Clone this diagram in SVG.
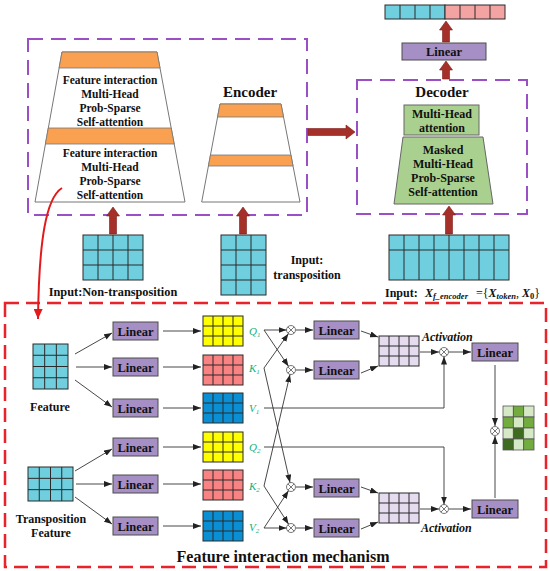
<svg xmlns="http://www.w3.org/2000/svg" xmlns:xlink="http://www.w3.org/1999/xlink" width="550" height="571" viewBox="0 0 550 571">
<style>
.b{font-family:"Liberation Serif",serif;font-weight:bold;fill:#111}
.tc{text-anchor:middle}
.lin{fill:#a68fc4;stroke:#4d4d4d;stroke-width:1}
.lt{font-family:"Liberation Serif",serif;font-weight:bold;font-size:12.5px;text-anchor:middle;fill:#111}
.gl{fill:none;stroke:#2a2a2a;stroke-width:1}
.cy{fill:#6fcfdf;stroke:#2a2a2a;stroke-width:1}
.pk{fill:#f4a3a3;stroke:#2a2a2a;stroke-width:1}
.ye{fill:#ffff00;stroke:#2a2a2a;stroke-width:1}
.sa{fill:#f98282;stroke:#2a2a2a;stroke-width:1}
.bl{fill:#0b8fd4;stroke:#2a2a2a;stroke-width:1}
.lp{fill:#e5dcef;stroke:#2a2a2a;stroke-width:1}
.ar{fill:none;stroke:#333;stroke-width:0.9;marker-end:url(#ah)}
.ln{fill:none;stroke:#333;stroke-width:0.9}
.big{fill:#a5302a;stroke:#7a1f1a;stroke-width:0.6}
.trap{fill:#fff;stroke:#777;stroke-width:1}
.or{fill:#f9a150;stroke:#777;stroke-width:0.8}
.gr{fill:#a9d08e;stroke:#666;stroke-width:1}
.pd{fill:none;stroke:#9a4fc4;stroke-width:2;stroke-dasharray:15 8}
.rd{fill:none;stroke:#e8232a;stroke-width:2.5;stroke-dasharray:14 7}
.lab{font-family:"Liberation Serif",serif;font-style:italic;font-size:11px;fill:#12b07a}
.act{font-family:"Liberation Serif",serif;font-style:italic;font-weight:bold;font-size:12px;fill:#111}
.L{fill:#d6e9c6;stroke:#555;stroke-width:0.8}
.M{fill:#72ab3e;stroke:#555;stroke-width:0.8}
.D{fill:#3e6b1f;stroke:#555;stroke-width:0.8}
</style>
<defs>
<marker id="ah" viewBox="0 0 8 6" refX="8" refY="3" markerWidth="8" markerHeight="6" markerUnits="userSpaceOnUse" orient="auto"><path d="M0,0 L8,3 L0,6 z" fill="#222"/></marker>
<marker id="rh" viewBox="0 0 10 9" refX="10" refY="4.5" markerWidth="10" markerHeight="9" markerUnits="userSpaceOnUse" orient="auto"><path d="M0,0 L10,4.5 L0,9 z" fill="#e31a1c"/></marker>
<path id="g43" d="M10,0V30M20,0V30M30,0V30M0,10H40M0,20H40"/>
<g id="otimes"><circle r="4.5" fill="#fff" stroke="#555" stroke-width="0.8"/><path d="M-3.2,-3.2L3.2,3.2M-3.2,3.2L3.2,-3.2" stroke="#555" stroke-width="0.8"/></g>
</defs>

<!-- Top section -->
<g id="encoder-frame">
<rect x="28" y="39" width="279" height="176" class="pd"/>
</g>
<g id="encoder-stack-left">
<polygon points="62,52 157,52 185,202 35,202" class="trap"/>
<polygon points="62,52 157,52 160,68 59.1,68" class="or"/>
<polygon points="48.3,128 171.2,128 174.2,144 45.4,144" class="or"/>
<g class="b tc" font-size="11.5">
<text x="110" y="84">Feature interaction</text>
<text x="110" y="98">Multi-Head</text>
<text x="110" y="112">Prob-Sparse</text>
<text x="110" y="126">Self-attention</text>
<text x="110" y="157">Feature interaction</text>
<text x="110" y="171">Multi-Head</text>
<text x="110" y="185">Prob-Sparse</text>
<text x="110" y="199">Self-attention</text>
</g>
</g>
<g id="encoder-stack-right">
<text x="250" y="97" class="b tc" font-size="15">Encoder</text>
<polygon points="220,104 281,104 300,202 201.7,202" class="trap"/>
<polygon points="220,104 281,104 283.5,117 217.6,117" class="or"/>
<polygon points="210.5,155 290.9,155 293,166 208.4,166" class="or"/>
</g>
<g id="decoder">
<rect x="357" y="80" width="170" height="134" class="pd"/>
<text x="442" y="97" class="b tc" font-size="15">Decoder</text>
<rect x="404" y="105" width="75" height="30" class="gr"/>
<text x="442" y="117.5" class="b tc" font-size="12">Multi-Head</text>
<text x="442" y="132" class="b tc" font-size="12">attention</text>
<polygon points="403,137 483,137 493,204 394,204" class="gr"/>
<g class="b tc" font-size="12">
<text x="443" y="154">Masked</text>
<text x="443" y="168">Multi-Head</text>
<text x="443" y="182">Prob-Sparse</text>
<text x="443" y="195.5">Self-attention</text>
</g>
</g>
<g id="linear-top">
<rect x="402" y="43" width="84" height="17" class="lin"/>
<text x="444" y="56" class="lt">Linear</text>
</g>
<g id="output-bar">
<rect x="385" y="5" width="60" height="14" class="cy"/>
<rect x="445" y="5" width="60" height="14" class="pk"/>
<path d="M400,5V19M415,5V19M430,5V19M460,5V19M475,5V19M490,5V19" class="gl"/>
</g>
<g id="input-nontrans">
<rect x="83" y="235" width="60" height="45" class="cy"/>
<path d="M98,235V280M113,235V280M128,235V280M83,250H143M83,265H143" class="gl"/>
<text x="113" y="296" class="b tc" font-size="12.3">Input:Non-transposition</text>
</g>
<g id="input-trans">
<rect x="221" y="235" width="45" height="60" class="cy"/>
<path d="M236,235V295M251,235V295M221,250H266M221,265H266M221,280H266" class="gl"/>
<text x="307" y="264" class="b tc" font-size="12">Input:</text>
<text x="307" y="279" class="b tc" font-size="12">transposition</text>
</g>
<g id="input-decoder">
<rect x="389" y="235" width="120" height="45" class="cy"/>
<path d="M404,235V280M419,235V280M434,235V280M449,235V280M464,235V280M479,235V280M494,235V280M389,250H509" class="gl"/>
<text y="297" class="b" font-size="12"><tspan x="385">Input:</tspan><tspan x="425" font-style="italic">X</tspan><tspan font-style="italic" font-size="8.5" dy="2">f_encoder</tspan><tspan x="476" dy="-2" font-weight="normal">={</tspan><tspan font-style="italic">X</tspan><tspan font-style="italic" font-size="8.5" dy="2">token</tspan><tspan dy="-2" font-weight="normal">, </tspan><tspan font-style="italic">X</tspan><tspan font-size="8.5" dy="2">0</tspan><tspan dy="-2" font-weight="normal">}</tspan></text>
</g>

<!-- Bottom section -->
<g id="fim-frame">
<rect x="5" y="303" width="541" height="264" class="rd"/>
<text x="283" y="562" class="b tc" font-size="16">Feature interaction mechanism</text>
</g>
<g id="feature">
<rect x="33" y="344" width="35" height="45" class="cy"/>
<path d="M44.67,344V389M56.33,344V389M33,355.25H68M33,366.5H68M33,377.75H68" class="gl"/>
<text x="50" y="411" class="b tc" font-size="12">Feature</text>
</g>
<g id="trans-feature">
<rect x="28" y="467" width="45" height="34" class="cy"/>
<path d="M39.25,467V501M50.5,467V501M61.75,467V501M28,478.33H73M28,489.67H73" class="gl"/>
<text x="51" y="523" class="b tc" font-size="12">Transposition</text>
<text x="51" y="537" class="b tc" font-size="12">Feature</text>
</g>
<g id="lin-1"><rect x="113" y="322" width="45" height="18" class="lin"/><text x="135.5" y="335.5" class="lt">Linear</text></g>
<g id="lin-2"><rect x="113" y="358" width="45" height="18" class="lin"/><text x="135.5" y="371.5" class="lt">Linear</text></g>
<g id="lin-3"><rect x="113" y="399" width="45" height="18" class="lin"/><text x="135.5" y="412.5" class="lt">Linear</text></g>
<g id="lin-4"><rect x="113" y="438" width="45" height="18" class="lin"/><text x="135.5" y="451.5" class="lt">Linear</text></g>
<g id="lin-5"><rect x="113" y="475" width="45" height="18" class="lin"/><text x="135.5" y="488.5" class="lt">Linear</text></g>
<g id="lin-6"><rect x="113" y="517" width="45" height="18" class="lin"/><text x="135.5" y="530.5" class="lt">Linear</text></g>

<g id="Q1"><g transform="translate(203,316)"><rect width="40" height="30" class="ye"/><use href="#g43" class="gl"/></g><text x="249" y="335" class="lab">Q<tspan font-size="7" dy="1.5">1</tspan></text></g>
<g id="K1"><g transform="translate(203,355)"><rect width="40" height="30" class="sa"/><use href="#g43" class="gl"/></g><text x="249" y="372" class="lab">K<tspan font-size="7" dy="1.5">1</tspan></text></g>
<g id="V1"><g transform="translate(203,393)"><rect width="40" height="30" class="bl"/><use href="#g43" class="gl"/></g><text x="249" y="412" class="lab">V<tspan font-size="7" dy="1.5">1</tspan></text></g>
<g id="Q2"><g transform="translate(203,432)"><rect width="40" height="30" class="ye"/><use href="#g43" class="gl"/></g><text x="249" y="451" class="lab">Q<tspan font-size="7" dy="1.5">2</tspan></text></g>
<g id="K2"><g transform="translate(203,470)"><rect width="40" height="30" class="sa"/><use href="#g43" class="gl"/></g><text x="249" y="490" class="lab">K<tspan font-size="7" dy="1.5">2</tspan></text></g>
<g id="V2"><g transform="translate(203,511)"><rect width="40" height="30" class="bl"/><use href="#g43" class="gl"/></g><text x="249" y="531" class="lab">V<tspan font-size="7" dy="1.5">2</tspan></text></g>

<g id="mul-1"><use href="#otimes" x="291" y="330"/></g>
<g id="mul-2"><use href="#otimes" x="291" y="370"/></g>
<g id="mul-3"><use href="#otimes" x="291" y="487"/></g>
<g id="mul-4"><use href="#otimes" x="291" y="528"/></g>

<g id="lin-m1"><rect x="314" y="321" width="45" height="18" class="lin"/><text x="336.5" y="334.5" class="lt">Linear</text></g>
<g id="lin-m2"><rect x="314" y="361" width="45" height="18" class="lin"/><text x="336.5" y="374.5" class="lt">Linear</text></g>
<g id="lin-m3"><rect x="314" y="479" width="45" height="18" class="lin"/><text x="336.5" y="492.5" class="lt">Linear</text></g>
<g id="lin-m4"><rect x="314" y="519" width="45" height="18" class="lin"/><text x="336.5" y="532.5" class="lt">Linear</text></g>

<g id="attn-1"><g transform="translate(379,336)"><rect width="40" height="30" class="lp"/><use href="#g43" class="gl"/></g></g>
<g id="attn-2"><g transform="translate(379,493)"><rect width="40" height="30" class="lp"/><use href="#g43" class="gl"/></g></g>

<g id="act-1"><use href="#otimes" x="444" y="352"/><text x="422" y="341" class="act">Activation</text></g>
<g id="act-2"><use href="#otimes" x="444" y="509"/><text x="421" y="532" class="act">Activation</text></g>

<g id="lin-r1"><rect x="472" y="343" width="46" height="18" class="lin"/><text x="495" y="356.5" class="lt">Linear</text></g>
<g id="lin-r2"><rect x="472" y="500" width="46" height="18" class="lin"/><text x="495" y="513.5" class="lt">Linear</text></g>

<g id="mul-out"><use href="#otimes" x="495" y="431"/></g>
<g id="result">
<rect x="503" y="406" width="10.33" height="11" class="L"/><rect x="513.33" y="406" width="10.33" height="11" class="M"/><rect x="523.67" y="406" width="10.33" height="11" class="L"/>
<rect x="503" y="417" width="10.33" height="11" class="M"/><rect x="513.33" y="417" width="10.33" height="11" class="L"/><rect x="523.67" y="417" width="10.33" height="11" class="M"/>
<rect x="503" y="428" width="10.33" height="11" class="L"/><rect x="513.33" y="428" width="10.33" height="11" class="D"/><rect x="523.67" y="428" width="10.33" height="11" class="L"/>
<rect x="503" y="439" width="10.33" height="11" class="D"/><rect x="513.33" y="439" width="10.33" height="11" class="L"/><rect x="523.67" y="439" width="10.33" height="11" class="M"/>
</g>

<g id="connectors">
<!-- big arrows -->
<polygon points="109.5,234 109.5,216 106.5,216 113,207 119.5,216 116.5,216 116.5,234" class="big"/>
<polygon points="239.5,234 239.5,216 236.5,216 243,207 249.5,216 246.5,216 246.5,234" class="big"/>
<polygon points="445.5,234 445.5,215 442.5,215 449,206 455.5,215 452.5,215 452.5,234" class="big"/>
<polygon points="442.5,79 442.5,70 439.5,70 446,61 452.5,70 449.5,70 449.5,79" class="big"/>
<polygon points="442.5,42 442.5,30 439.5,30 446,21 452.5,30 449.5,30 449.5,42" class="big"/>
<polygon points="308,128.5 346,128.5 346,125 355,132 346,139 346,135.5 308,135.5" class="big"/>
<!-- red curve -->
<path d="M62,188 C46,198 39,240 38,319" fill="none" stroke="#e31a1c" stroke-width="2" marker-end="url(#rh)"/>
<!-- feature to linear -->
<path d="M75,354L112,333" class="ar"/>
<path d="M76,367H112" class="ar"/>
<path d="M75,380L112,407" class="ar"/>
<path d="M75,471L112,449" class="ar"/>
<path d="M76,484H112" class="ar"/>
<path d="M75,497L112,524" class="ar"/>
<!-- linear to matrices -->
<path d="M163,331H201" class="ar"/>
<path d="M163,367H201" class="ar"/>
<path d="M163,408H201" class="ar"/>
<path d="M163,447H201" class="ar"/>
<path d="M163,484H201" class="ar"/>
<path d="M163,526H201" class="ar"/>
<!-- crossing -->
<path d="M264,330H286.5" class="ar"/>
<path d="M264,330L288.5,366.3" class="ar"/>
<path d="M264,368L288.4,333.7" class="ar"/>
<path d="M264,368L290,482.6" class="ar"/>
<path d="M264,486L290,374.4" class="ar"/>
<path d="M264,486L288.6,524.2" class="ar"/>
<path d="M264,528L288.5,490.7" class="ar"/>
<path d="M264,528H286.5" class="ar"/>
<path d="M264,408H444V356.5" class="ar"/>
<path d="M264,447H444V504.5" class="ar"/>
<!-- mul to linear -->
<path d="M296,330H313" class="ar"/>
<path d="M296,370H313" class="ar"/>
<path d="M296,487H313" class="ar"/>
<path d="M296,528H313" class="ar"/>
<!-- linear to attn -->
<path d="M361,331L378,337" class="ar"/>
<path d="M361,373L378,366" class="ar"/>
<path d="M361,487L378,493" class="ar"/>
<path d="M361,529L378,522" class="ar"/>
<!-- attn to activation -->
<path d="M420,352H439" class="ar"/>
<path d="M449,352H471" class="ar"/>
<path d="M420,509H439" class="ar"/>
<path d="M449,509H471" class="ar"/>
<!-- to output mul -->
<path d="M495,365V426" class="ar"/>
<path d="M495,498V436" class="ar"/>
</g>
</svg>
